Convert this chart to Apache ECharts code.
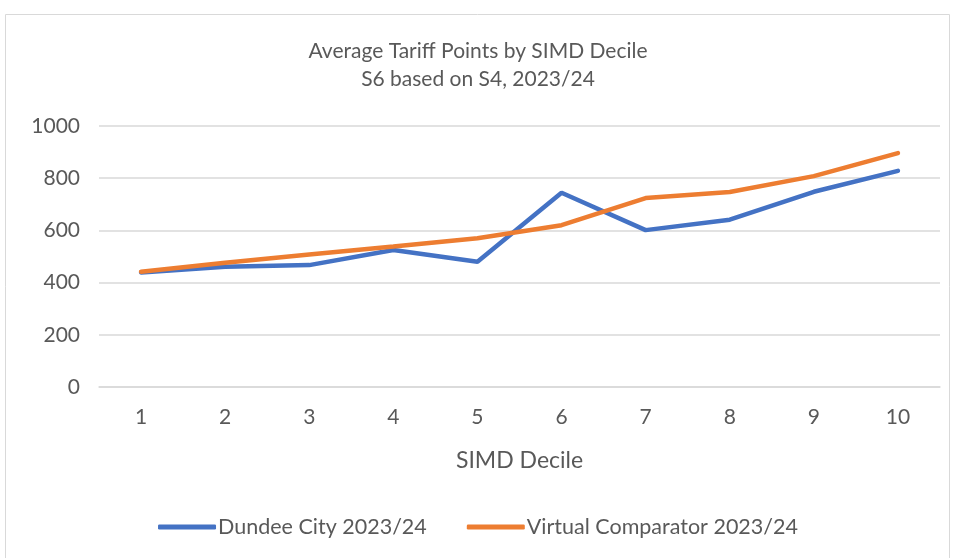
<!DOCTYPE html>
<html>
<head>
<meta charset="utf-8">
<script src="https://cdn.jsdelivr.net/npm/echarts@6/dist/echarts.min.js"></script>
<style>
  html, body { margin: 0; padding: 0; background: #fff; }
  #main { width: 956px; height: 558px; }
</style>
</head>
<body>
<div id="main"></div>
<script>
// SIMD deciles on the x axis
var deciles = ['1', '2', '3', '4', '5', '6', '7', '8', '9', '10'];
// values
var dundee = [439, 461, 467, 525, 480, 744, 601, 641, 748, 828];
var comparator = [442, 476, 508, 538, 570, 620, 724, 747, 808, 896];

var font = 'Lato, "Open Sans", sans-serif';
var grey = '#595959';

var chart = echarts.init(document.getElementById('main'));
chart.setOption({
  animation: false,
  graphic: [{
    type: 'rect',
    shape: { x: 5.5, y: 14.5, width: 944, height: 560 },
    style: { fill: 'none', stroke: '#D9D9D9', lineWidth: 1 }
  }],
  title: {
    text: 'Average Tariff Points by SIMD Decile\nS6 based on S4, 2023/24',
    left: 'center',
    top: 32,
    textStyle: { fontFamily: font, fontSize: 21, fontWeight: 'normal', color: grey, lineHeight: 28 }
  },
  legend: {
    bottom: 15,
    left: 'center',
    itemWidth: 58,
    itemHeight: 5,
    itemGap: 40,
    icon: 'roundRect',
    textStyle: { fontFamily: font, fontSize: 21.5, color: grey, padding: [0, 0, 0, -3] },
    data: ['Dundee City 2023/24', 'Virtual Comparator 2023/24']
  },
  grid: { left: 99, right: 16, top: 126, bottom: 171 },
  xAxis: {
    type: 'category',
    data: deciles,
    name: 'SIMD Decile',
    nameLocation: 'middle',
    nameGap: 62,
    nameTextStyle: { fontFamily: font, fontSize: 23, color: grey },
    axisLine: { show: true, lineStyle: { color: '#D9D9D9', width: 1.5 } },
    axisTick: { show: false },
    axisLabel: { fontFamily: font, fontSize: 21, color: grey, margin: 20 }
  },
  yAxis: {
    type: 'value',
    min: 0,
    max: 1000,
    interval: 200,
    axisLine: { show: false },
    axisTick: { show: false },
    axisLabel: { fontFamily: font, fontSize: 21, color: grey, margin: 19, formatter: function (v) { return String(v); } },
    splitLine: { lineStyle: { color: '#D9D9D9', width: 1.5 } }
  },
  series: [
    {
      name: 'Dundee City 2023/24',
      type: 'line',
      data: dundee,
      symbol: 'none',
      lineStyle: { color: '#4472C4', width: 4.5, cap: 'round' },
      itemStyle: { color: '#4472C4' }
    },
    {
      name: 'Virtual Comparator 2023/24',
      type: 'line',
      data: comparator,
      symbol: 'none',
      lineStyle: { color: '#ED7D31', width: 4.5, cap: 'round' },
      itemStyle: { color: '#ED7D31' }
    }
  ]
});
</script>
</body>
</html>
